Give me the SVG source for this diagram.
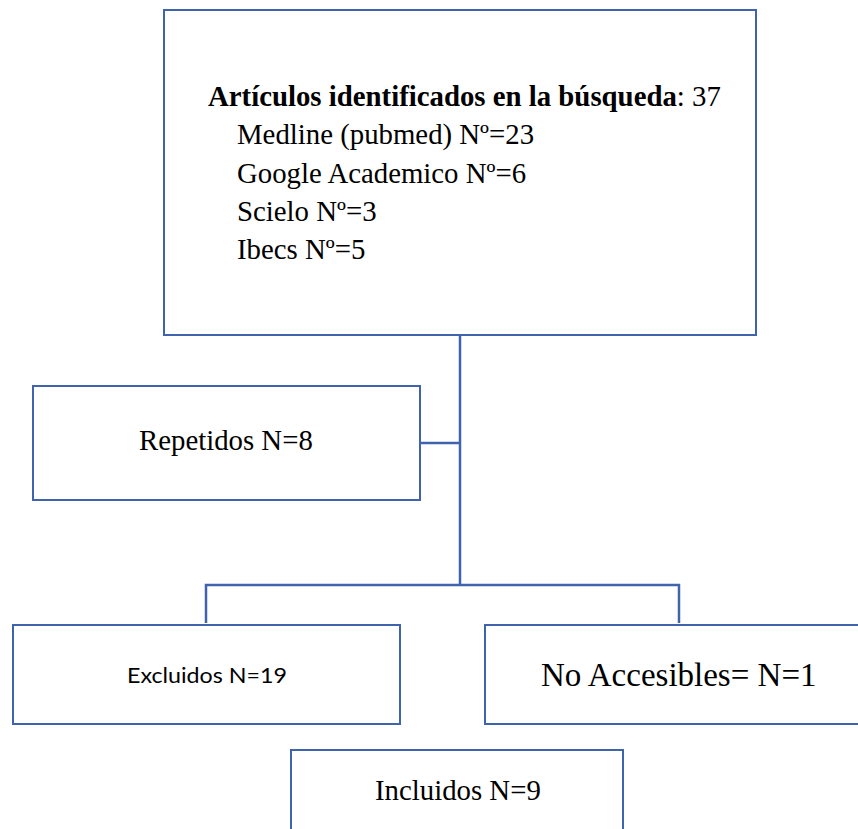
<svg xmlns="http://www.w3.org/2000/svg" width="858" height="829" viewBox="0 0 858 829">
<style>
.box{fill:#fff;stroke:#3F63AC;stroke-width:2}
.con{fill:none;stroke:#3F63AC;stroke-width:2.5}
.t{font-family:"Liberation Serif","Times New Roman",serif;font-size:28.8px;fill:#000}
.b{font-weight:bold}
.s{font-family:Lato,"Noto Sans",sans-serif;font-size:22px;fill:#000}
</style>
<rect width="858" height="829" fill="#fff"/>
<g id="connectors">
<path class="con" d="M460,335 V585"/>
<path class="con" d="M420,443 H460"/>
<path class="con" d="M206,623 V585 H679 V623"/>
</g>
<g id="identificados">
<rect class="box" x="164" y="10" width="592" height="325"/>
<text class="t" x="208" y="106"><tspan class="b">Artículos identificados en la búsqueda</tspan>: 37</text>
<text class="t" x="237" y="144">Medline (pubmed) Nº=23</text>
<text class="t" x="237" y="183">Google Academico Nº=6</text>
<text class="t" x="237" y="221">Scielo Nº=3</text>
<text class="t" x="237" y="259">Ibecs Nº=5</text>
</g>
<g id="repetidos">
<rect class="box" x="33" y="386" width="387" height="114"/>
<text class="t" x="139" y="450">Repetidos N=8</text>
</g>
<g id="excluidos">
<rect class="box" x="13" y="625" width="387" height="99"/>
<text class="s" x="127" y="683" textLength="160" lengthAdjust="spacingAndGlyphs">Excluidos N=19</text>
</g>
<g id="noaccesibles">
<rect class="box" x="485" y="625" width="380" height="99"/>
<text class="t" x="541" y="686" style="font-size:33px">No Accesibles= N=1</text>
</g>
<g id="incluidos">
<rect class="box" x="291" y="750" width="332" height="100"/>
<text class="t" x="375" y="800">Incluidos N=9</text>
</g>
</svg>
